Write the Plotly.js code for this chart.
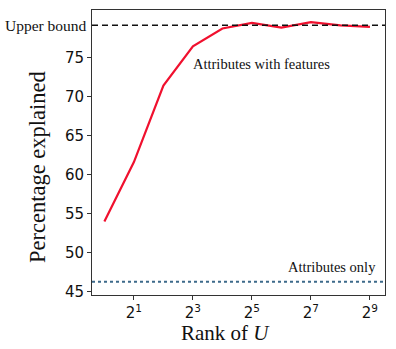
<!DOCTYPE html>
<html><head><meta charset="utf-8">
<script src="https://cdn.plot.ly/plotly-3.0.1.min.js"></script>
<style>body{margin:0;padding:0;background:#fff}#c{width:396px;height:349px}</style>
</head><body><div id="c"></div>
<script>
const ranks = [1, 2, 4, 8, 16, 32, 64, 128, 256, 512];
const withFeatures = [54.0, 61.6, 71.4, 76.4, 78.7, 79.4, 78.8, 79.5, 79.1, 78.9];
const upperBound = 79.1;
const attributesOnly = 46.3;
const tickVals = [2, 8, 32, 128, 512];
const tickText = ['2<sup>1</sup>', '2<sup>3</sup>', '2<sup>5</sup>', '2<sup>7</sup>', '2<sup>9</sup>'];
const yTicks = [45, 50, 55, 60, 65, 70, 75];

const serif = 'Liberation Serif, Times New Roman, serif';
const sans = 'DejaVu Sans, sans-serif';

const data = [{
  x: ranks, y: withFeatures, type: 'scatter', mode: 'lines',
  line: {color: '#f0102e', width: 2.2}, showlegend: false
}];

const layout = {
  width: 396, height: 349,
  margin: {l: 92, r: 11, t: 10, b: 54},
  paper_bgcolor: '#fff', plot_bgcolor: '#fff',
  showlegend: false,
  xaxis: {
    type: 'log', range: [Math.log10(2) * -0.42, Math.log10(2) * 9.51],
    tickvals: tickVals, ticktext: tickText,
    ticks: 'outside', ticklen: 4, tickwidth: 1, tickcolor: '#333',
    showgrid: false, zeroline: false,
    showline: true, linecolor: '#333', linewidth: 1, mirror: true,
    tickfont: {family: sans, size: 15, color: '#111'}
  },
  yaxis: {
    range: [44.6, 81.06],
    tickvals: yTicks,
    ticks: 'outside', ticklen: 4, tickwidth: 1, tickcolor: '#333',
    showgrid: false, zeroline: false,
    showline: true, linecolor: '#333', linewidth: 1, mirror: true,
    tickfont: {family: sans, size: 15, color: '#111'}
  },
  shapes: [
    {type: 'line', xref: 'paper', x0: 0, x1: 1, yref: 'y', y0: upperBound, y1: upperBound,
     line: {color: '#111', width: 1.6, dash: '6px,4px'}},
    {type: 'line', xref: 'paper', x0: 0, x1: 1, yref: 'y', y0: attributesOnly, y1: attributesOnly,
     line: {color: '#3d6a8a', width: 2, dash: 'dot'}}
  ],
  annotations: [
    {xref: 'paper', x: 0.454, xanchor: 'center', yref: 'paper', y: -0.133, yanchor: 'middle',
     text: 'Rank of <i>U</i>', showarrow: false, font: {family: serif, size: 21, color: '#111'}},
    {xref: 'paper', x: -0.188, xanchor: 'center', yref: 'paper', y: 0.449, yanchor: 'middle',
     text: 'Percentage explained', textangle: -90, showarrow: false, font: {family: serif, size: 22.5, color: '#111'}},
    {xref: 'paper', x: 0, xanchor: 'right', xshift: -3, yref: 'y', y: upperBound, yanchor: 'middle',
     text: 'Upper bound', showarrow: false, font: {family: serif, size: 15.5, color: '#111'}},
    {xref: 'x', x: Math.log10(7.6), xanchor: 'left', yref: 'y', y: 74.2, yanchor: 'middle',
     text: 'Attributes with features', showarrow: false, font: {family: serif, size: 14.5, color: '#111'}},
    {xref: 'paper', x: 1, xanchor: 'right', xshift: -7, yref: 'y', y: attributesOnly, yanchor: 'bottom', yshift: 5,
     text: 'Attributes only', showarrow: false, font: {family: serif, size: 14.5, color: '#111'}}
  ]
};

Plotly.newPlot('c', data, layout, {displayModeBar: false, staticPlot: true});
</script>
</body></html>
